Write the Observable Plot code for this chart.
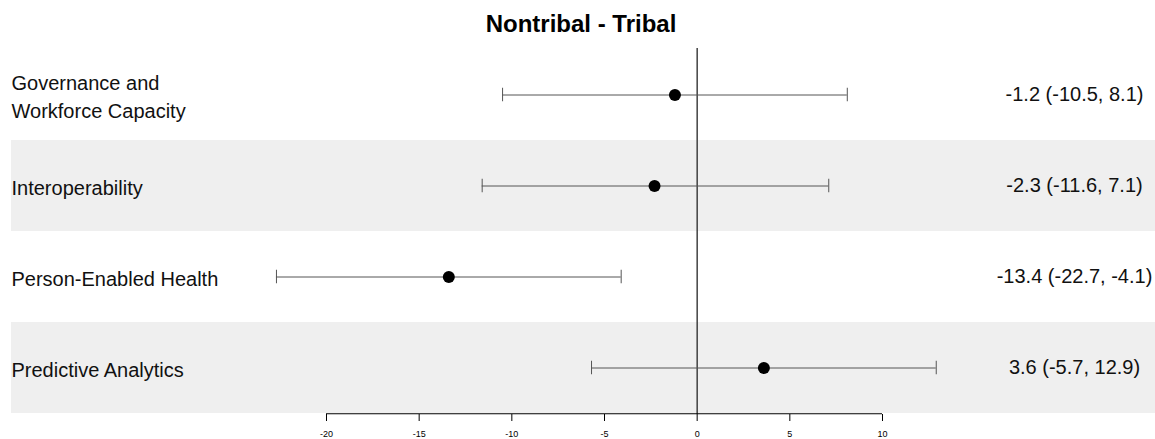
<!DOCTYPE html>
<html>
<head>
<meta charset="utf-8">
<script src="https://cdn.jsdelivr.net/npm/d3@7"></script>
<script src="https://cdn.jsdelivr.net/npm/@observablehq/plot@0.6"></script>
<style>
  body { margin: 0; background: white; font-family: "Liberation Sans", Arial, sans-serif; }
  #title { height: 48px; line-height: 47px; font-size: 24px; font-weight: bold; width: 1155px; text-align: center; padding-left: 7px; box-sizing: border-box; color: #000; }
</style>
</head>
<body>
<div id="title">Nontribal - Tribal</div>
<div id="chart"></div>
<script>
const categories = ["Governance and Workforce Capacity", "Interoperability", "Person-Enabled Health", "Predictive Analytics"];
const rowLabels = ["Governance and\nWorkforce Capacity", "Interoperability", "Person-Enabled Health", "Predictive Analytics"];
const estimates = [-1.2, -2.3, -13.4, 3.6];
const lower = [-10.5, -11.6, -22.7, -5.7];
const upper = [8.1, 7.1, -4.1, 12.9];
const shaded = [false, true, false, true];
const xTicks = [-20, -15, -10, -5, 0, 5, 10];

const rows = categories.map((c, i) => ({
  cat: c,
  label: rowLabels[i],
  est: estimates[i],
  lo: lower[i],
  hi: upper[i],
  shaded: shaded[i],
  ci: `${estimates[i].toFixed(1)} (${lower[i].toFixed(1)}, ${upper[i].toFixed(1)})`
}));

const bandH = 366 / categories.length;
const capInset = (bandH - 14) / 2;

const chart = Plot.plot({
  width: 1155,
  height: 391,
  marginTop: 0,
  marginBottom: 25,
  marginLeft: 11,
  marginRight: 0,
  x: {domain: [xTicks[0], xTicks[xTicks.length - 1]], range: [326, 882]},
  y: {type: "band", domain: categories, padding: 0, axis: null},
  style: {fontFamily: "Liberation Sans, Arial, sans-serif", background: "white", color: "black"},
  marks: [
    Plot.cell(rows.filter(d => d.shaded), {y: "cat", fill: "#efefef"}),
    Plot.ruleX([0], {stroke: "#333", strokeWidth: 1.4}),
    Plot.ruleY(rows, {y: "cat", x1: "lo", x2: "hi", stroke: "#555", strokeWidth: 1}),
    Plot.tickX(rows, {x: "lo", y: "cat", insetTop: capInset, insetBottom: capInset, stroke: "#555"}),
    Plot.tickX(rows, {x: "hi", y: "cat", insetTop: capInset, insetBottom: capInset, stroke: "#555"}),
    Plot.dot(rows, {x: "est", y: "cat", r: 6, fill: "black", stroke: null}),
    Plot.text(rows, {y: "cat", text: "label", frameAnchor: "left", textAnchor: "start", fontSize: 20, lineHeight: 1.4, fill: "#111"}),
    Plot.text(rows, {y: "cat", text: "ci", frameAnchor: "right", textAnchor: "middle", dx: -81, fontSize: 20, fill: "#111"}),
    Plot.ruleY([categories[categories.length - 1]], {y: d => d, x1: () => xTicks[0], x2: () => xTicks[xTicks.length - 1], dy: bandH / 2, stroke: "#000", strokeWidth: 1}),
    Plot.axisX({ticks: xTicks, tickSize: 7, tickPadding: 9, fontSize: 9, tickFormat: d => String(d), stroke: "#000"})
  ]
});
document.getElementById("chart").appendChild(chart);
</script>
</body>
</html>
